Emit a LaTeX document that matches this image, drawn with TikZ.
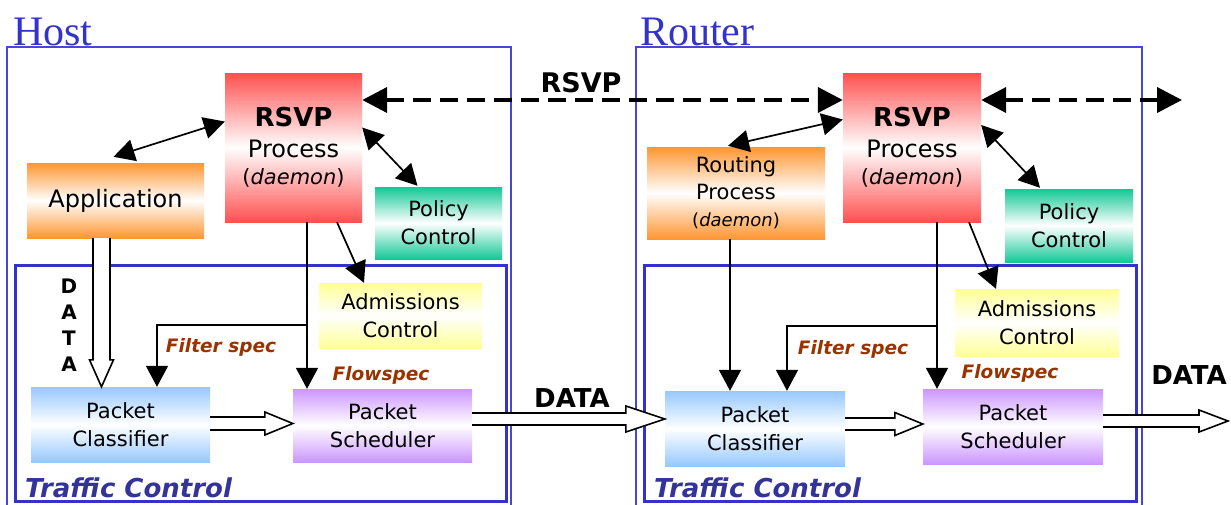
\documentclass[tikz,border=0pt]{standalone}
\usepackage{fontspec}
\setmainfont{DejaVu Sans}
\newfontfamily\titlefont{Liberation Serif}
\usetikzlibrary{arrows.meta,calc}
\definecolor{frameblue}{RGB}{70,70,215}
\definecolor{tcblue}{RGB}{51,51,204}
\definecolor{tctext}{RGB}{51,51,153}
\definecolor{titleblue}{RGB}{51,51,204}
\definecolor{rsvpred}{RGB}{255,80,80}
\definecolor{apporange}{RGB}{255,150,50}
\definecolor{polgreen}{RGB}{20,200,150}
\definecolor{admyellow}{RGB}{255,255,150}
\definecolor{clsblue}{RGB}{150,200,255}
\definecolor{schpurple}{RGB}{204,150,255}
\definecolor{specbrown}{RGB}{153,51,0}
\newcommand\hollowH[5]{\draw[hollowline] let \p1=(#1), \p2=(#2) in (\x1,\y1+#3) -- (\x2-#5,\y1+#3) -- (\x2-#5,\y1+#4) -- (\x2,\y1) -- (\x2-#5,\y1-#4) -- (\x2-#5,\y1-#3) -- (\x1,\y1-#3);}
\newcommand\hollowV[5]{\draw[hollowline] let \p1=(#1), \p2=(#2) in (\x1+#3,\y1) -- (\x1+#3,\y2+#5) -- (\x1+#4,\y2+#5) -- (\x1,\y2) -- (\x1-#4,\y2+#5) -- (\x1-#3,\y2+#5) -- (\x1-#3,\y1);}
\begin{document}
\begin{tikzpicture}[x=1pt,y=-1pt,
  grad/.style={inner sep=0pt, align=center, top color=#1, bottom color=#1, middle color=white, font=\fontsize{21}{28}\selectfont},
  arr/.style={line width=1.7pt, -{Triangle[length=21pt,width=22pt]}},
  biarr/.style={line width=1.7pt, {Triangle[length=21pt,width=22pt]}-{Triangle[length=21pt,width=22pt]}},
  dasharr/.style={line width=4pt, dash pattern=on 18pt off 9pt, {Triangle[length=25pt,width=25pt]}-{Triangle[length=25pt,width=25pt]}},
  hollowline/.style={line width=1.6pt, fill=white, line join=miter},
  outerframe/.style={frameblue, line width=1.8pt},
  tcframe/.style={tcblue, line width=3pt},
  titletext/.style={anchor=base west, inner sep=0pt, text=titleblue, font=\titlefont\fontsize{42}{42}\selectfont},
  tclabel/.style={anchor=west, inner sep=0pt, text=tctext, font=\fontsize{26}{26}\selectfont\bfseries\itshape},
  speclabel/.style={inner sep=0pt, text=specbrown, font=\fontsize{18.5}{20}\selectfont\bfseries\itshape},
  datalabel/.style={inner sep=0pt, font=\fontsize{26}{26}\selectfont\bfseries}
]
\useasboundingbox (0,0) rectangle (1231,504);
\fill[white] (0,0) rectangle (1231,504);

% frames
\draw[outerframe] (7,510) -- (7,47) -- (511,47) -- (511,510);
\draw[outerframe] (636,510) -- (636,47) -- (1142,47) -- (1142,510);
\draw[tcframe] (15,265) rectangle (506,501);
\draw[tcframe] (644,265) rectangle (1136,501);
\node[titletext] (thost) at (13,45) {Host};
\node[titletext] (trouter) at (640,45) {Router};
\node[tclabel] (tch) at (25,488) {Traffic Control};
\node[tclabel] (tcr) at (654,488) {Traffic Control};

% host nodes
\node[grad=rsvpred, minimum width=137pt, minimum height=149pt, font=\fontsize{24}{31}\selectfont] (hrsvp) at (293.5,147.5)
  {{\fontsize{26}{31}\selectfont\bfseries RSVP}\\Process\\[-4pt]{\fontsize{21}{27}\selectfont(\textit{daemon})}};
\node[grad=apporange, minimum width=177pt, minimum height=75pt, font=\fontsize{24}{28}\selectfont] (happ) at (115.5,200.5) {Application};
\node[grad=polgreen, minimum width=127pt, minimum height=72pt] (hpol) at (438.5,223) {Policy\\Control};
\node[grad=admyellow, minimum width=163pt, minimum height=65pt] (hadm) at (400.5,315.5) {Admissions\\Control};
\node[grad=clsblue, minimum width=179pt, minimum height=75pt] (hcls) at (120.5,424.5) {Packet\\Classifier};
\node[grad=schpurple, minimum width=179pt, minimum height=73pt] (hsch) at (382.5,425.5) {Packet\\Scheduler};

% router nodes
\node[grad=rsvpred, minimum width=138pt, minimum height=149pt, font=\fontsize{24}{31}\selectfont] (rrsvp) at (912,147.5)
  {{\fontsize{26}{31}\selectfont\bfseries RSVP}\\Process\\[-4pt]{\fontsize{21}{27}\selectfont(\textit{daemon})}};
\node[grad=apporange, minimum width=178pt, minimum height=92pt, font=\fontsize{21}{27}\selectfont] (rrout) at (736,193)
  {Routing\\Process\\{\fontsize{18}{27}\selectfont(\textit{daemon})}};
\node[grad=polgreen, minimum width=128pt, minimum height=73pt] (rpol) at (1069,225.5) {Policy\\Control};
\node[grad=admyellow, minimum width=164pt, minimum height=67pt] (radm) at (1037,322.5) {Admissions\\Control};
\node[grad=clsblue, minimum width=180pt, minimum height=75pt] (rcls) at (755,428.5) {Packet\\Classifier};
\node[grad=schpurple, minimum width=180pt, minimum height=75pt] (rsch) at (1013,426.5) {Packet\\Scheduler};

% labels
\node[speclabel] (hfs) at (221,347) {Filter spec};
\node[speclabel] (hfl) at (381,375) {Flowspec};
\node[speclabel] (rfs) at (853,349) {Filter spec};
\node[speclabel] (rfl) at (1010,373) {Flowspec};
\node[datalabel] (hdata) at (572,398) {DATA};
\node[datalabel] (rdata) at (1189,375) {DATA};
\node[datalabel, font=\fontsize{27}{27}\selectfont\bfseries] (rsvplab) at (581,83) {RSVP};
\node[inner sep=0pt, align=center, font=\fontsize{20}{26}\selectfont\bfseries] (vdata) at (69,325) {D\\A\\T\\A};

% host connectors
\draw[biarr] ($(happ.north)+(-2,-6)$) -- ($(hrsvp.west)+(0,-26)$);
\draw[biarr] ($(hrsvp.east)+(0,-20)$) -- ($(hpol.north)+(-21,-1)$);
\draw[arr] ($(hrsvp.south)+(43.5,0)$) -- ($(hadm.north)+(-36.5,0)$);
\coordinate (hv) at ($(hrsvp.south)+(13.5,103)$);
\draw[arr] ($(hrsvp.south)+(13.5,0)$) -- (hsch.north -| hv);
\draw[arr] (hv) -| ($(hcls.north)+(36.5,0)$);

% router connectors
\draw[biarr] ($(rrout.north)+(-8,-1)$) -- ($(rrsvp.west)+(0,-28)$);
\draw[biarr] ($(rrsvp.east)+(0,-22.5)$) -- ($(rpol.north)+(-29,-1)$);
\draw[arr] ($(rrsvp.south)+(57,0)$) -- ($(radm.north)+(-41,0)$);
\coordinate (rv) at ($(rrsvp.south)+(25,104)$);
\draw[arr] ($(rrsvp.south)+(25,0)$) -- (rsch.north -| rv);
\draw[arr] (rv) -| ($(rcls.north)+(32,0)$);
\draw[arr] ($(rrout.south)+(-6,0)$) -- ($(rcls.north)+(-25,0)$);

% RSVP dashed
\coordinate (rsvpout) at (1182,100);
\draw[dasharr] ($(hrsvp.east)+(0,-47.5)$) -- (rrsvp.west |- 0,100);
\draw[dasharr] ($(rrsvp.east)+(0,-47.5)$) -- (rsvpout);

% hollow data arrows
\coordinate (d0) at ($(happ.south)+(-14,0)$);
\hollowV{d0}{hcls.north -| d0}{8.5pt}{12pt}{27pt}
\coordinate (d1) at ($(hcls.east)+(0,-1)$);
\hollowH{d1}{hsch.west |- d1}{6.5pt}{11.5pt}{28pt}
\coordinate (d2) at ($(hsch.east)+(0,-6.5)$);
\hollowH{d2}{rcls.west |- d2}{6pt}{13pt}{39pt}
\coordinate (d3) at ($(rcls.east)+(0,-4.5)$);
\hollowH{d3}{rsch.west |- d3}{6pt}{11.5pt}{28pt}
\coordinate (d4) at ($(rsch.east)+(0,-5.5)$);
\coordinate (dout) at (1228,421);
\hollowH{d4}{dout}{6pt}{11pt}{29pt}
\end{tikzpicture}
\end{document}
